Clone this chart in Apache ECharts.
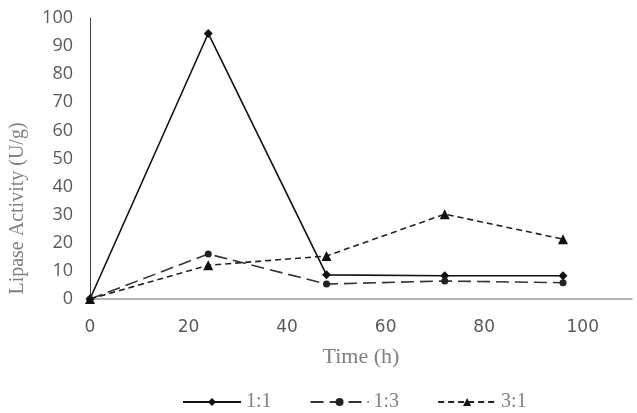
<!DOCTYPE html>
<html>
<head>
<meta charset="utf-8">
<script src="https://cdn.jsdelivr.net/npm/echarts@6/dist/echarts.min.js"></script>
<style>
  html, body { margin: 0; padding: 0; background: #fff; }
  #main { width: 637px; height: 413px; }
</style>
</head>
<body>
<div id="main"></div>
<script>
// time points (h)
let times = [0, 24, 48, 72, 96];
// lipase activity (U/g) per ratio
let ratio11 = [0, 94.5, 8.6, 8.3, 8.3];
let ratio13 = [0, 16, 5.3, 6.4, 5.8];
let ratio31 = [0, 12, 15.3, 30.2, 21.3];
let seriesNames = ["1:1", "1:3", "3:1"];

function pairs(vals) {
  return times.map(function (t, i) { return [t, vals[i]]; });
}

let myChart = echarts.init(document.getElementById("main"));
let serif = "Liberation Serif";
let option = {
  animation: false,
  backgroundColor: "#fff",
  grid: { left: 90, right: 5, top: 18, bottom: 114 },
  legend: {
    top: 387,
    left: 177,
    itemWidth: 58,
    itemHeight: 10,
    itemGap: 38,
    textStyle: { fontFamily: serif, fontSize: 20, color: "#7f7f7f" },
    data: seriesNames
  },
  xAxis: {
    type: "value",
    min: 0,
    max: 110,
    interval: 20,
    name: "Time (h)",
    nameLocation: "middle",
    nameGap: 47,
    nameTextStyle: { fontFamily: serif, fontSize: 22, color: "#7f7f7f" },
    axisLine: { lineStyle: { color: "#9a9a9a", width: 1.5 } },
    axisTick: { show: false },
    splitLine: { show: false },
    axisLabel: {
      showMaxLabel: false,
      margin: 20,
      fontFamily: "DejaVu Sans",
      fontSize: 17,
      color: "#595959"
    }
  },
  yAxis: {
    type: "value",
    min: 0,
    max: 100,
    interval: 10,
    name: "Lipase Activity (U/g)",
    nameLocation: "middle",
    nameGap: 62,
    nameTextStyle: {
      fontFamily: serif,
      fontSize: 20,
      color: "#7f7f7f",
      padding: [0, 100, 0, 0]
    },
    axisLine: { show: true, lineStyle: { color: "#404040", width: 1 } },
    axisTick: { show: false },
    splitLine: { show: false },
    axisLabel: {
      margin: 17,
      fontFamily: "Open Sans",
      fontSize: 18,
      color: "#595959"
    }
  },
  series: [
    {
      name: seriesNames[0],
      type: "line",
      symbol: "diamond",
      symbolSize: 9,
      itemStyle: { color: "#111" },
      lineStyle: { color: "#111", width: 1.6, type: "solid" },
      data: pairs(ratio11)
    },
    {
      name: seriesNames[1],
      type: "line",
      symbol: "circle",
      symbolSize: 7,
      itemStyle: { color: "#222" },
      lineStyle: { color: "#333", width: 1.6, type: [13, 6] },
      data: pairs(ratio13)
    },
    {
      name: seriesNames[2],
      type: "line",
      symbol: "triangle",
      symbolSize: 10,
      itemStyle: { color: "#111" },
      lineStyle: { color: "#222", width: 1.6, type: [6, 4] },
      data: pairs(ratio31)
    }
  ]
};
myChart.setOption(option);
</script>
</body>
</html>
